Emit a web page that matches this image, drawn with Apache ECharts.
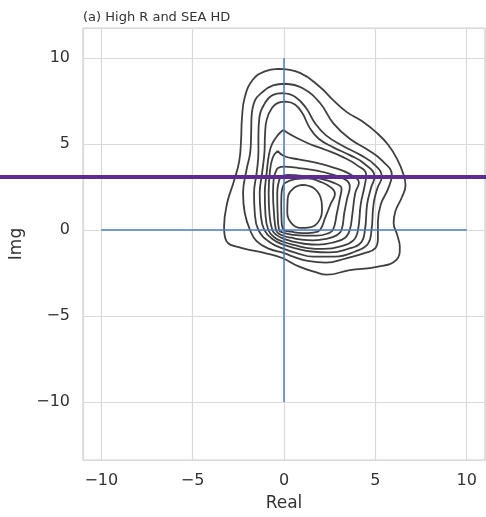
<!DOCTYPE html>
<html><head><meta charset="utf-8">
<script src="https://cdn.jsdelivr.net/npm/echarts/dist/echarts.min.js"></script>
<style>html,body{margin:0;padding:0;background:#fff}#c{width:486px;height:517px}</style>
</head><body><div id="c"></div>
<script>
const titleText = '(a) High R and SEA HD';
const xName = 'Real';
const yName = 'Img';
const xRange = [-11, 11];
const yRange = [-13.37, 11.74];
const hLine = [[-10, 0], [10, 0]];
const vLine = [[0, -10], [0, 10]];
const purpleY = 3.08;

const c1 = [[-0.33,9.36],[0.87,9.13],[1.97,8.31],[2.68,7.56],[3.44,6.85],[4.3,6.3],[5.08,5.64],[5.7,4.95],[6.2,4.1],[6.55,3.2],[6.65,2.6],[6.45,1.9],[6.1,1.1],[6.0,0.4],[6.2,-0.3],[6.34,-1.0],[6.15,-1.74],[5.08,-2.15],[3.6,-2.33],[2.35,-2.6],[1.69,-2.44],[0.77,-2.1],[-0.1,-1.63],[-1.04,-1.34],[-2.3,-1.05],[-3.15,-0.65],[-3.28,0.17],[-3.11,1.57],[-2.75,2.8],[-2.45,4.0],[-2.35,5.23],[-2.3,6.5],[-2.15,7.7],[-1.7,8.75],[-1.05,9.22],[-0.33,9.36]];
const c2 = [[0.05,8.5],[1.0,8.25],[1.97,7.38],[2.7,6.2],[3.6,5.3],[4.6,4.65],[5.4,4.0],[5.9,3.2],[5.7,2.4],[5.3,1.5],[5.14,0.5],[5.14,-0.5],[5.0,-1.05],[4.4,-1.35],[3.4,-1.65],[2.3,-1.9],[1.3,-1.8],[0.5,-1.55],[0,-1.34],[-0.8,-1.1],[-1.5,-0.65],[-1.86,0],[-2.15,1.0],[-2.24,2.15],[-2.05,3.5],[-1.85,4.5],[-1.8,5.5],[-1.78,6.5],[-1.6,7.5],[-1.2,8.0],[-0.6,8.4],[0.05,8.5]];
const c3 = [[-0.1,7.95],[0.6,7.75],[1.2,7.1],[1.7,6.2],[2.3,5.5],[3.2,4.9],[4.2,4.35],[4.95,3.8],[5.35,3.1],[5.1,2.4],[4.9,1.5],[4.79,0],[4.6,-0.8],[3.9,-1.25],[2.8,-1.55],[1.6,-1.55],[0.7,-1.35],[0,-1.1],[-0.8,-0.7],[-1.4,0],[-1.6,1.0],[-1.64,2.15],[-1.5,3.3],[-1.4,4.5],[-1.4,5.5],[-1.35,6.5],[-1.04,7.38],[-0.6,7.85],[-0.1,7.95]];
const c4 = [[0.1,7.46],[0.6,7.3],[1.0,6.8],[1.4,5.95],[1.9,5.3],[2.7,4.8],[3.6,4.35],[4.4,3.85],[4.95,3.1],[4.75,2.4],[4.55,1.5],[4.43,0],[4.2,-0.75],[3.5,-1.1],[2.5,-1.3],[1.5,-1.25],[0.7,-1.08],[0,-0.87],[-0.6,-0.55],[-1.08,0],[-1.28,1.0],[-1.33,2.15],[-1.2,3.3],[-1.07,4.5],[-1.04,5.5],[-0.95,6.4],[-0.65,7.1],[-0.25,7.42],[0.1,7.46]];
const c5 = [[-0.05,5.81],[0.6,5.4],[1.4,5.0],[2.3,4.65],[3.2,4.25],[3.95,3.8],[4.5,3.2],[4.4,2.5],[4.2,1.5],[4.05,0],[3.8,-0.6],[3.1,-0.95],[2.2,-1.1],[1.3,-1.05],[0.6,-0.88],[0,-0.7],[-0.5,-0.45],[-0.86,0],[-1.02,1.0],[-1.05,2.15],[-0.95,3.3],[-0.82,4.4],[-0.65,5.0],[-0.35,5.5],[-0.05,5.81]];
const c6 = [[-0.35,4.6],[0,4.3],[0.8,4.1],[1.8,3.9],[2.8,3.6],[3.6,3.25],[4.1,2.75],[3.9,2.15],[3.75,1.0],[3.6,0],[3.35,-0.45],[2.7,-0.72],[1.9,-0.85],[1.1,-0.8],[0.5,-0.68],[0,-0.52],[-0.4,-0.3],[-0.64,0],[-0.8,1.0],[-0.84,2.15],[-0.78,3.3],[-0.62,4.2],[-0.35,4.6]];
const c7 = [[-0.35,3.6],[0,3.68],[0.8,3.6],[1.8,3.45],[2.7,3.2],[3.4,2.9],[3.6,2.5],[3.45,1.8],[3.3,1.0],[3.15,0],[2.9,-0.3],[2.3,-0.52],[1.6,-0.6],[0.9,-0.55],[0.4,-0.45],[0,-0.35],[-0.3,-0.2],[-0.44,0],[-0.55,1.0],[-0.6,2.15],[-0.56,3.0],[-0.35,3.6]];
const c8 = [[-0.2,3.1],[0.2,3.2],[1.0,3.15],[1.9,3.0],[2.7,2.75],[3.15,2.4],[3.05,1.8],[2.9,1.0],[2.68,0],[2.4,-0.2],[1.8,-0.33],[1.1,-0.33],[0.5,-0.28],[0,-0.17],[-0.27,0],[-0.35,1.0],[-0.37,2.15],[-0.2,3.1]];
const c9 = [[0.0,2.7],[0.6,2.95],[1.3,3.0],[2.0,2.8],[2.6,2.45],[2.79,2.1],[2.55,1.5],[2.25,0.7],[1.97,0],[1.6,-0.15],[1.0,-0.18],[0.4,-0.1],[0,0],[-0.13,0.5],[-0.15,1.5],[-0.13,2.2],[0.0,2.7]];
const c10 = [[1.0,2.62],[1.6,2.45],[2.0,1.9],[2.08,1.3],[1.9,0.5],[1.4,0.15],[0.9,0.12],[0.4,0.4],[0.18,1.0],[0.2,1.8],[0.5,2.4],[1.0,2.62]];
const contours = [c1, c2, c3, c4, c5, c6, c7, c8, c9, c10];

const FONT = 'DejaVu Sans';
const fmt = v => (v < 0 ? '\u2212' + Math.abs(v) : String(v));
const chart = echarts.init(document.getElementById('c'), null, {renderer: 'canvas'});
const axisCommon = {
  type: 'value', splitNumber: 5,
  axisLine: {show: false}, axisTick: {show: false},
  splitLine: {show: true, lineStyle: {color: '#dadada', width: 1.2}},
  nameLocation: 'middle',
  nameTextStyle: {fontSize: 17, color: '#333', fontFamily: FONT}
};
const series = contours.map(c => ({
  type: 'line', data: c, smooth: 0.45, symbol: 'none', silent: true,
  lineStyle: {color: '#3f3f3f', width: 1.8}, z: 2, animation: false
}));
series.push({type: 'line', data: hLine, symbol: 'none', silent: true, lineStyle: {color: '#4f7cc6', width: 1.5}, z: 3});
series.push({type: 'line', data: vLine, symbol: 'none', silent: true, lineStyle: {color: '#4f7cc6', width: 1.5}, z: 3});

chart.setOption({
  animation: false,
  backgroundColor: '#fff',
  title: {text: titleText, left: 78, top: 6, textStyle: {fontSize: 13, fontWeight: 'normal', color: '#333', fontFamily: FONT}},
  grid: {left: 83, right: 1, top: 28, bottom: 57, show: true, borderColor: '#d0d0d0', borderWidth: 1.2, containLabel: false, outerBoundsMode: 'none'},
  xAxis: Object.assign({}, axisCommon, {
    min: xRange[0], max: xRange[1], name: xName, nameGap: 35,
    axisLabel: {showMinLabel: false, showMaxLabel: false, fontSize: 16, color: '#333', margin: 13, fontFamily: FONT, formatter: fmt}
  }),
  yAxis: Object.assign({}, axisCommon, {
    min: yRange[0], max: yRange[1], name: yName, nameGap: 57,
    axisLabel: {showMinLabel: false, showMaxLabel: false, fontSize: 16, color: '#333', margin: 13, fontFamily: FONT, formatter: fmt}
  }),
  series: series
});
const py = chart.convertToPixel({gridIndex: 0}, [0, purpleY])[1];
chart.setOption({graphic: [{type: 'line', shape: {x1: 0, y1: py, x2: chart.getWidth(), y2: py}, style: {stroke: '#5b2c91', lineWidth: 4}, z: 100}]});
</script></body></html>
